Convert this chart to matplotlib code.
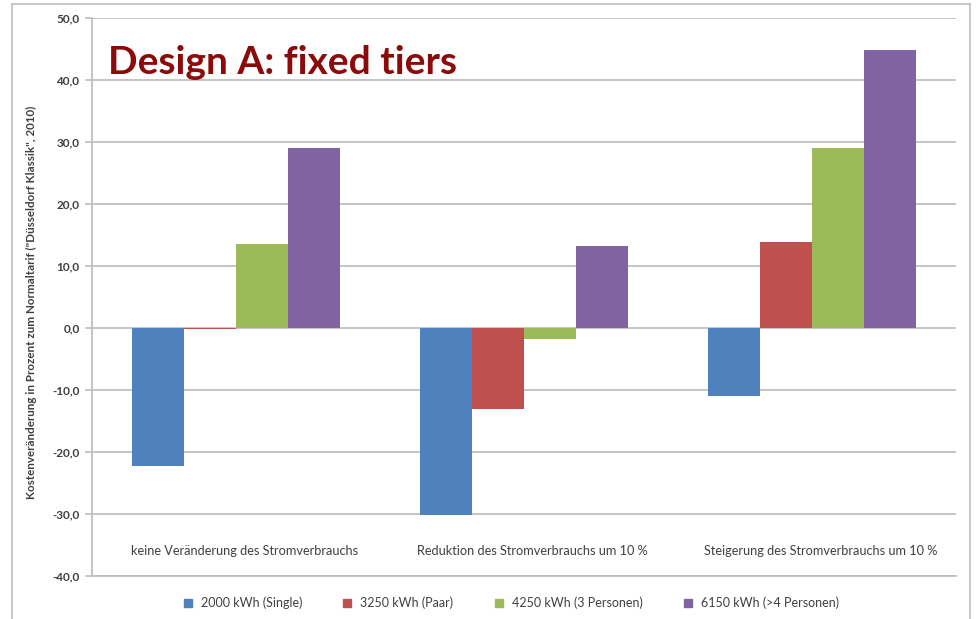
import matplotlib
matplotlib.use("Agg")
import matplotlib.pyplot as plt
from matplotlib.lines import Line2D
import numpy as np

# Szenarien (Kategorien) und Haushaltsgrößen (Serien)
categories = [
    "keine Veränderung des Stromverbrauchs",
    "Reduktion des Stromverbrauchs um 10 %",
    "Steigerung des Stromverbrauchs um 10 %",
]
series_names = [
    "2000 kWh (Single)",
    "3250 kWh (Paar)",
    "4250 kWh (3 Personen)",
    "6150 kWh (>4 Personen)",
]
single = [-22.2, -30.2, -10.9]
paar = [-0.1, -13.1, 13.9]
drei_personen = [13.5, -1.7, 29.1]
vier_personen = [29.1, 13.3, 44.9]
y_ticks = [-40, -30, -20, -10, 0, 10, 20, 30, 40, 50]
y_label = 'Kostenveränderung in Prozent zum Normaltarif ("Düsseldorf Klassik", 2010)'
title_text = "Design A: fixed tiers"

colors = ["#4F81BD", "#C0504D", "#9BBB59", "#8064A2"]
grid_color = "#BFBFBF"
text_color = "#404040"
font = ["Lato", "DejaVu Sans"]

plt.rcParams["font.family"] = font

fig = plt.figure(figsize=(9.76, 6.19), dpi=100)
ax_left, ax_right = 92, 956
ax = fig.add_axes([ax_left / 976, 1 - 576 / 619, (ax_right - ax_left) / 976, (576 - 18) / 619])

x = np.arange(len(categories))
width = 0.18
all_series = [single, paar, drei_personen, vier_personen]
for i, (vals, name, col) in enumerate(zip(all_series, series_names, colors)):
    ax.bar(x + (i - 1.5) * width, vals, width=width, color=col, label=name,
           zorder=3, linewidth=0)

ax.set_xlim(-0.5, len(categories) - 0.5)
ax.set_ylim(y_ticks[0], y_ticks[-1])
ax.set_yticks(y_ticks)
ax.set_yticklabels([f"{v:.1f}".replace(".", ",") for v in y_ticks],
                   fontsize=8.5, color=text_color, fontweight="bold")
ax.set_xticks([])
ax.yaxis.grid(True, color=grid_color, linewidth=1.3, zorder=0)
ax.set_axisbelow(True)
ax.tick_params(axis="y", length=5, width=1.2, color=grid_color, pad=4)

for side in ["top", "right"]:
    ax.spines[side].set_visible(False)
for side in ["left", "bottom"]:
    ax.spines[side].set_color(grid_color)
    ax.spines[side].set_linewidth(1.3)

# Kategoriebeschriftungen innerhalb des Diagrammbereichs
for xi, lab in zip(x, categories):
    ax.text(xi + 0.03, -36.0, lab, ha="center", va="center", fontsize=9.2,
            color=text_color)

ax.set_ylabel(y_label, fontsize=8.4, color=text_color, fontweight="bold")
ax.yaxis.set_label_coords(-55 / (ax_right - ax_left), 0.49)

# Titel
fig.text(108 / 976, 1 - 62 / 619, title_text, fontsize=28, fontweight="bold",
         color="#8B0A0A", ha="left", va="center")

# Legende
handles = [Line2D([0], [0], marker="s", linestyle="none", markersize=6,
                  markerfacecolor=c, markeredgecolor=c) for c in colors]
fig.legend(handles, series_names, loc="center", bbox_to_anchor=(507 / 976, 1 - 603 / 619),
           ncol=4, frameon=False, fontsize=9, handletextpad=0.05,
           columnspacing=2.6, labelcolor=text_color)

# Rahmen des Diagrammobjekts
frame_kw = dict(color="#BFBFBF", linewidth=1.2, transform=fig.transFigure)
fig.add_artist(Line2D([12 / 976, 12 / 976], [0, 1 - 4 / 619], **frame_kw))
fig.add_artist(Line2D([12 / 976, 970 / 976], [1 - 4 / 619, 1 - 4 / 619], **frame_kw))
fig.add_artist(Line2D([970 / 976, 970 / 976], [0, 1 - 4 / 619], **frame_kw))

fig.savefig("out.png", dpi=100)
